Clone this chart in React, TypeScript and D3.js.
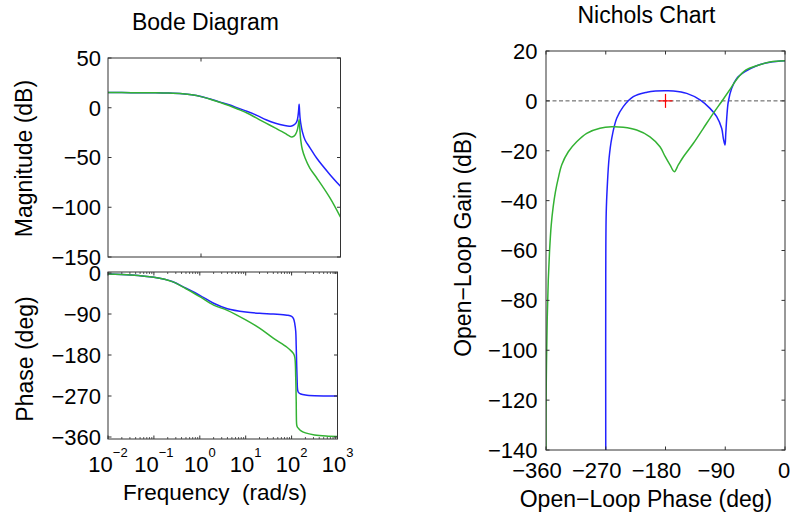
import React from "react";
import * as d3 from "d3";

// ---- data ----
// Bode magnitude (rad/s, dB)
const magFreq = [0.01, 0.0316, 0.1, 0.2, 0.4, 0.63, 1, 1.58, 2.5, 4, 6.3, 10, 15.8, 25, 40, 63, 79, 89, 100, 110, 117.5, 123, 126, 129, 132, 135, 140, 151, 174, 219, 309, 589, 1000];
const blueMag = [15.3, 15.2, 15.0, 14.7, 14.0, 13.0, 11.3, 8.8, 5.9, 3.0, -0.4, -3.8, -7.6, -12.0, -15.5, -17.8, -18.5, -18.3, -17.3, -15.5, -12.5, -7, -2, 3.5, -4, -10, -16, -24, -32.7, -40, -50.8, -67, -79];
const greenMag = [15.3, 15.2, 15.0, 14.7, 14.0, 13.0, 11.2, 8.6, 5.5, 2.2, -1.5, -5.5, -10.5, -15.5, -20.5, -25.5, -28.3, -29.4, -28.5, -26, -22.5, -18, -15, -12, -18, -24, -32.7, -42, -50.8, -60.7, -70.6, -90.4, -110];

// Bode phase (rad/s, deg)
const phaseFreq = [0.01, 0.0316, 0.1, 0.251, 0.501, 1, 2, 3.98, 10, 20, 39.8, 79.4, 100, 110, 117.5, 123, 126, 129, 132, 135, 141, 158, 200, 316, 562, 1000];
const bluePhase = [-2.2, -4.3, -9.4, -18.6, -33.5, -49, -66.5, -78.5, -85.8, -88.5, -90.2, -92.5, -95, -100, -112, -128, -160, -201, -235, -256, -262, -265.5, -268, -269.6, -270, -270];
const greenPhase = [-2.2, -4.3, -9.5, -19, -34.5, -52, -70.5, -82, -103, -121, -143, -163, -172, -177, -185, -230, -280, -333, -337, -339, -341, -346, -351, -355.5, -358, -359];

// Nichols (deg, dB)
const nBluePhase = [0, -22.6, -42.6, -60.3, -72.7, -80.3, -85.4, -87.8, -89.2, -90.4, -92.9, -95.4, -102.9, -113, -128, -148, -168, -178, -195, -208, -228.5, -243.6, -253.5, -261, -265, -267.6, -269.3, -270, -270];
const nBlueGain = [16.1, 15.5, 14.1, 11.7, 9.0, 5.1, -0.3, -7, -13, -17.7, -15, -11, -6.3, -3, 0.4, 3, 4.0, 4.1, 4.0, 3.5, 1.7, -2.3, -7, -15, -23, -33.7, -45, -70, -140];
const nGreenPhase = [0, -22.6, -42.6, -58.7, -71.8, -81.8, -93.8, -108, -123, -138, -153, -160.7, -166.7, -173, -180.8, -188.3, -203.4, -223.4, -243.6, -261, -278.7, -298.7, -313.8, -326.4, -336.4, -341.5, -345.8, -349.2, -352.2, -354.6, -356.6, -358.2, -359.3, -360, -360];
const nGreenGain = [16.1, 15.6, 14.1, 12.4, 9.0, 5.0, 0.35, -5, -11, -17, -22.4, -25.7, -28.4, -25.8, -22.2, -18.4, -14.4, -11.7, -10.6, -10.4, -11, -13, -16.4, -20.4, -25.7, -31, -36.5, -42.5, -50, -60, -72, -88, -106, -125, -140];

// ticks
const magTicks = [50, 0, -50, -100, -150];
const phaseTicks = [0, -90, -180, -270, -360];
const freqExps = [-2, -1, 0, 1, 2, 3];
const magFreqTicks = [1];
const gainTicks = [20, 0, -20, -40, -60, -80, -100, -120, -140];
const nPhaseTicks = [-360, -270, -180, -90, 0];

const FONT = "'Liberation Sans', Arial, Helvetica, sans-serif";
const BLUE = "#2222ff";
const GREEN = "#33b233";
const AX = "#333";
const minus = (v: number) => (v < 0 ? "\u2212" + Math.abs(v) : String(v));

const xMag = d3.scaleLog().domain([0.01, 1000]).range([108, 340.5]);
const yMag = d3.scaleLinear().domain([-150, 50]).range([257, 58]);
const xPh = d3.scaleLog().domain([0.01, 1000]).range([108, 337.5]);
const yPh = d3.scaleLinear().domain([-360, 0]).range([437, 273]);
const phBox = { top: 272, bottom: 439 };
const xN = d3.scaleLinear().domain([-360, 0]).range([546, 785]);
const yN = d3.scaleLinear().domain([-140, 20]).range([450, 51]);

const curve = d3.curveCatmullRom.alpha(0.5);

function pathOf(xs: number[], ys: number[], sx: any, sy: any) {
  const pts = xs.map((x, i) => [sx(x), sy(ys[i])] as [number, number]);
  return d3.line().curve(curve)(pts) || "";
}

const minorFreq: number[] = [];
for (let e = -2; e < 3; e++) for (let k = 2; k < 10; k++) minorFreq.push(k * Math.pow(10, e));

export default function App() {
  const tl = 3.5;
  const tickFs = 22;
  const labFs = 23;
  const magL = xMag.range()[0], magR = xMag.range()[1];
  const phL = xPh.range()[0], phR = xPh.range()[1];
  const nL = 546, nR = 785, nT = 51, nB = 450;

  return (
    <svg width={790} height={516} style={{ position: "absolute", left: 0, top: 0, background: "#fff" }}
      fontFamily={FONT} fill="#000">
      <defs>
        <clipPath id="cMag"><rect x={magL} y={58} width={magR - magL} height={199} /></clipPath>
        <clipPath id="cPh"><rect x={phL} y={phBox.top} width={phR - phL} height={phBox.bottom - phBox.top} /></clipPath>
        <clipPath id="cN"><rect x={nL} y={nT} width={nR - nL} height={nB - nT} /></clipPath>
      </defs>

      {/* ---------- Bode magnitude ---------- */}
      <text x={205.5} y={29.5} textAnchor="middle" fontSize={labFs}>Bode Diagram</text>
      <g clipPath="url(#cMag)" fill="none" strokeWidth={1.5}>
        <path d={pathOf(magFreq, blueMag, xMag, yMag)} stroke={BLUE} />
        <path d={pathOf(magFreq, greenMag, xMag, yMag)} stroke={GREEN} />
      </g>
      <rect x={magL} y={58} width={magR - magL} height={199} fill="none" stroke={AX} strokeWidth={1} />
      {magTicks.map(t => (
        <g key={"mt" + t}>
          <line x1={magL} x2={magL + tl} y1={yMag(t)} y2={yMag(t)} stroke={AX} />
          <line x1={magR} x2={magR - tl} y1={yMag(t)} y2={yMag(t)} stroke={AX} />
          <text x={101} y={yMag(t)} dy="0.36em" textAnchor="end" fontSize={tickFs}>{minus(t)}</text>
        </g>
      ))}
      {magFreqTicks.map(f => (
        <g key={"mf" + f}>
          <line x1={xMag(f)} x2={xMag(f)} y1={58} y2={58 + tl} stroke={AX} />
          <line x1={xMag(f)} x2={xMag(f)} y1={257} y2={257 - tl} stroke={AX} />
        </g>
      ))}
      <text transform="translate(32,158.5) rotate(-90)" textAnchor="middle" fontSize={labFs}>Magnitude (dB)</text>

      {/* ---------- Bode phase ---------- */}
      <g clipPath="url(#cPh)" fill="none" strokeWidth={1.5}>
        <path d={pathOf(phaseFreq, bluePhase, xPh, yPh)} stroke={BLUE} />
        <path d={pathOf(phaseFreq, greenPhase, xPh, yPh)} stroke={GREEN} />
      </g>
      <rect x={phL} y={phBox.top} width={phR - phL} height={phBox.bottom - phBox.top} fill="none" stroke={AX} strokeWidth={1} />
      {phaseTicks.map(t => (
        <g key={"pt" + t}>
          <line x1={phL} x2={phL + tl} y1={yPh(t)} y2={yPh(t)} stroke={AX} />
          <line x1={phR} x2={phR - tl} y1={yPh(t)} y2={yPh(t)} stroke={AX} />
          <text x={101} y={yPh(t)} dy="0.36em" textAnchor="end" fontSize={tickFs}>{minus(t)}</text>
        </g>
      ))}
      {minorFreq.map(f => (
        <g key={"mn" + f}>
          <line x1={xPh(f)} x2={xPh(f)} y1={phBox.top} y2={phBox.top + 2} stroke={AX} strokeWidth={0.8} />
          <line x1={xPh(f)} x2={xPh(f)} y1={phBox.bottom} y2={phBox.bottom - 2} stroke={AX} strokeWidth={0.8} />
        </g>
      ))}
      {freqExps.map(e => (
        <g key={"fe" + e}>
          <line x1={xPh(10 ** e)} x2={xPh(10 ** e)} y1={phBox.top} y2={phBox.top + tl} stroke={AX} />
          <line x1={xPh(10 ** e)} x2={xPh(10 ** e)} y1={phBox.bottom} y2={phBox.bottom - tl} stroke={AX} />
          <text x={xPh(10 ** e)} y={471.5} textAnchor="middle" fontSize={tickFs}>
            10<tspan dy={-15} fontSize={13}>{minus(e)}</tspan>
          </text>
        </g>
      ))}
      <text transform="translate(33,359) rotate(-90)" textAnchor="middle" fontSize={labFs}>Phase (deg)</text>
      <text x={215} y={500} textAnchor="middle" fontSize={22.5} style={{ whiteSpace: "pre" }}>{"Frequency  (rad/s)"}</text>

      {/* ---------- Nichols ---------- */}
      <text x={646.5} y={22.7} textAnchor="middle" fontSize={labFs}>Nichols Chart</text>
      <line x1={nL} x2={nR} y1={yN(0)} y2={yN(0)} stroke="#555" strokeDasharray="4,2.5" strokeWidth={1} />
      <g clipPath="url(#cN)" fill="none" strokeWidth={1.5}>
        <path d={pathOf(nBluePhase, nBlueGain, xN, yN)} stroke={BLUE} />
        <path d={pathOf(nGreenPhase, nGreenGain, xN, yN)} stroke={GREEN} />
      </g>
      <g stroke="#ff0000" strokeWidth={1.2}>
        <line x1={xN(-180) - 7} x2={xN(-180) + 7} y1={yN(0)} y2={yN(0)} />
        <line x1={xN(-180)} x2={xN(-180)} y1={yN(0) - 7} y2={yN(0) + 7} />
      </g>
      <rect x={nL} y={nT} width={nR - nL} height={nB - nT} fill="none" stroke={AX} strokeWidth={1} />
      {gainTicks.map(t => (
        <g key={"gt" + t}>
          <line x1={nL} x2={nL + tl} y1={yN(t)} y2={yN(t)} stroke={AX} />
          <line x1={nR} x2={nR - tl} y1={yN(t)} y2={yN(t)} stroke={AX} />
          <text x={537.5} y={yN(t)} dy="0.36em" textAnchor="end" fontSize={tickFs}>{minus(t)}</text>
        </g>
      ))}
      {nPhaseTicks.map(t => (
        <g key={"np" + t}>
          <line x1={xN(t)} x2={xN(t)} y1={nT} y2={nT + tl} stroke={AX} />
          <line x1={xN(t)} x2={xN(t)} y1={nB} y2={nB - tl} stroke={AX} />
          <text x={xN(t) + (t < 0 ? -9 : -1)} y={478} textAnchor="middle" fontSize={tickFs}>{minus(t)}</text>
        </g>
      ))}
      <text transform="translate(471,244) rotate(-90)" textAnchor="middle" fontSize={labFs}>Open{"\u2212"}Loop Gain (dB)</text>
      <text x={646} y={506.5} textAnchor="middle" fontSize={labFs}>Open{"\u2212"}Loop Phase (deg)</text>
    </svg>
  );
}
